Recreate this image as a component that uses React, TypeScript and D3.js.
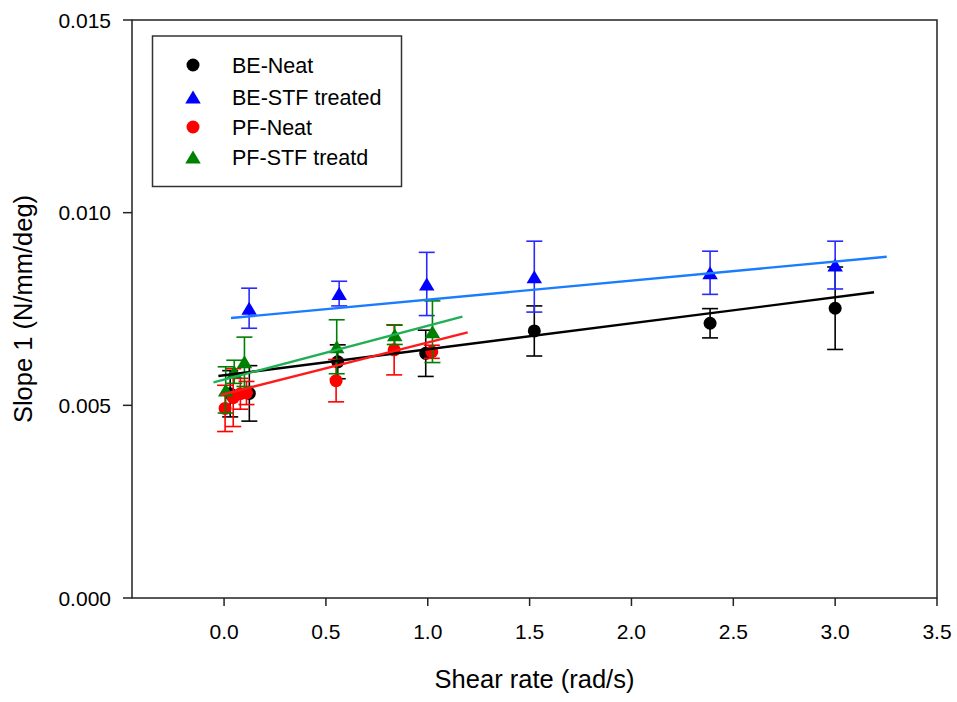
import React from "react";
import * as d3 from "d3";

// ---- data ----
const xTicks = [0.0, 0.5, 1.0, 1.5, 2.0, 2.5, 3.0, 3.5];
const yTicks = [0.0, 0.005, 0.01, 0.015];

const seriesNames = ["BE-Neat", "BE-STF treated", "PF-Neat", "PF-STF treatd"];

const beNeatX = [0.03, 0.124, 0.558, 0.99, 1.523, 2.386, 3.0];
const beNeatY = [0.0053, 0.00531, 0.00613, 0.00635, 0.00693, 0.00713, 0.00752];
const beNeatErr = [0.0006, 0.00072, 0.00044, 0.0006, 0.00065, 0.00038, 0.00107];

const beStfX = [0.123, 0.565, 0.995, 1.523, 2.386, 3.0];
const beStfY = [0.00752, 0.0079, 0.00815, 0.00834, 0.00844, 0.00864];
const beStfErr = [0.00052, 0.00032, 0.00082, 0.00092, 0.00056, 0.00062];

const pfNeatX = [0.005, 0.045, 0.08, 0.11, 0.55, 0.835, 1.02];
const pfNeatY = [0.00492, 0.0052, 0.0053, 0.00532, 0.00564, 0.00644, 0.00639];
const pfNeatErr = [0.0006, 0.00075, 0.0004, 0.0003, 0.00055, 0.00065, 0.00017];

const pfStfX = [0.008, 0.05, 0.1, 0.553, 0.838, 1.023];
const pfStfY = [0.0054, 0.00587, 0.00613, 0.00652, 0.00683, 0.00691];
const pfStfErr = [0.0006, 0.0003, 0.00064, 0.0007, 0.00025, 0.0008];

// regression line end points [x, y]
const beNeatFit = [[-0.028, 0.005761], [3.191, 0.007933]];
const beStfFit = [[0.034, 0.007266], [3.253, 0.008857]];
const pfNeatFit = [[-0.016, 0.005268], [1.196, 0.006895]];
const pfStfFit = [[-0.052, 0.005597], [1.17, 0.0073]];

// ---- layout ----
const W = 957;
const H = 702;
const left = 132;
const right = 937;
const top = 20;
const bottom = 598;
const FONT = "'Liberation Sans', Arial, Helvetica, sans-serif";

const x = d3.scaleLinear().domain([-0.452, 3.5]).range([left, right]);
const y = d3.scaleLinear().domain([0, 0.015]).range([bottom, top]);

type Series = {
  name: string;
  xs: number[];
  ys: number[];
  errs: number[];
  fit: number[][];
  marker: "circle" | "triangle";
  color: string;
  errColor: string;
  lineColor: string;
};

const series: Series[] = [
  { name: seriesNames[0], xs: beNeatX, ys: beNeatY, errs: beNeatErr, fit: beNeatFit, marker: "circle", color: "#000000", errColor: "#000000", lineColor: "#000000" },
  { name: seriesNames[1], xs: beStfX, ys: beStfY, errs: beStfErr, fit: beStfFit, marker: "triangle", color: "#0000ff", errColor: "#2a2aff", lineColor: "#1a7cff" },
  { name: seriesNames[2], xs: pfNeatX, ys: pfNeatY, errs: pfNeatErr, fit: pfNeatFit, marker: "circle", color: "#ff0000", errColor: "#ff0000", lineColor: "#ff1a1a" },
  { name: seriesNames[3], xs: pfStfX, ys: pfStfY, errs: pfStfErr, fit: pfStfFit, marker: "triangle", color: "#008000", errColor: "#008000", lineColor: "#1fb054" },
];

const TRI_W = 15.5;
const TRI_H = 13;
const triPath = (cx: number, cy: number) =>
  `M${cx},${cy - TRI_H / 2}L${cx + TRI_W / 2},${cy + TRI_H / 2}L${cx - TRI_W / 2},${cy + TRI_H / 2}Z`;

function Marker({ kind, cx, cy, color }: { kind: string; cx: number; cy: number; color: string }) {
  if (kind === "circle") return <circle cx={cx} cy={cy} r={6.5} fill={color} />;
  return <path d={triPath(cx, cy)} fill={color} />;
}

const line = d3
  .line<number[]>()
  .x((d) => x(d[0]))
  .y((d) => y(d[1]));

export default function App() {
  const cap = 8;
  return (
    <svg
      width={W}
      height={H}
      viewBox={`0 0 ${W} ${H}`}
      style={{ position: "absolute", left: 0, top: 0, background: "#fff" }}
      fontFamily={FONT}
    >
      <rect x={0} y={0} width={W} height={H} fill="#fff" />

      {/* error bars and markers, series by series */}
      {series.map((s) => (
        <g key={s.name}>
          {s.xs.map((xv, i) => {
            const cx = x(xv);
            const y1 = y(s.ys[i] + s.errs[i]);
            const y2 = y(s.ys[i] - s.errs[i]);
            return (
              <g key={"e" + i} stroke={s.errColor} strokeWidth={1.6} fill="none">
                <line x1={cx} x2={cx} y1={y1} y2={y2} />
                <line x1={cx - cap} x2={cx + cap} y1={y1} y2={y1} />
                <line x1={cx - cap} x2={cx + cap} y1={y2} y2={y2} />
              </g>
            );
          })}
          {s.xs.map((xv, i) => (
            <Marker key={"m" + i} kind={s.marker} cx={x(xv)} cy={y(s.ys[i])} color={s.color} />
          ))}
        </g>
      ))}

      {/* regression lines */}
      {series.map((s) => (
        <path key={s.name + "fit"} d={line(s.fit) || ""} stroke={s.lineColor} strokeWidth={2.4} fill="none" />
      ))}

      {/* frame */}
      <rect x={left} y={top} width={right - left} height={bottom - top} fill="none" stroke="#222" strokeWidth={1.5} />

      {/* x axis ticks */}
      {xTicks.map((t) => (
        <g key={"xt" + t}>
          <line x1={x(t)} x2={x(t)} y1={bottom} y2={bottom + 8} stroke="#222" strokeWidth={1.5} />
          <text x={x(t)} y={639} textAnchor="middle" fontSize={21} fill="#000">
            {d3.format(".1f")(t)}
          </text>
        </g>
      ))}

      {/* y axis ticks */}
      {yTicks.map((t) => (
        <g key={"yt" + t}>
          <line x1={left - 9} x2={left} y1={y(t)} y2={y(t)} stroke="#222" strokeWidth={1.5} />
          <text x={111} y={y(t) + 7.5} textAnchor="end" fontSize={21} fill="#000">
            {d3.format(".3f")(t)}
          </text>
        </g>
      ))}

      {/* axis titles */}
      <text x={(left + right) / 2} y={688} textAnchor="middle" fontSize={25.5} fill="#000">
        Shear rate (rad/s)
      </text>
      <text
        transform={`translate(32,${(top + bottom) / 2}) rotate(-90)`}
        textAnchor="middle"
        fontSize={25.5}
        fill="#000"
      >
        Slope 1 (N/mm/deg)
      </text>

      {/* legend */}
      <rect x={152.5} y={36} width={249} height={150.5} fill="#fff" stroke="#333" strokeWidth={1.5} />
      {series.map((s, i) => {
        const ly = [65, 97, 127, 157][i];
        return (
          <g key={"lg" + i}>
            <Marker kind={s.marker} cx={193} cy={ly} color={s.color} />
            <text x={232} y={ly + 7.5} fontSize={21.5} fill="#000">
              {s.name}
            </text>
          </g>
        );
      })}
    </svg>
  );
}
